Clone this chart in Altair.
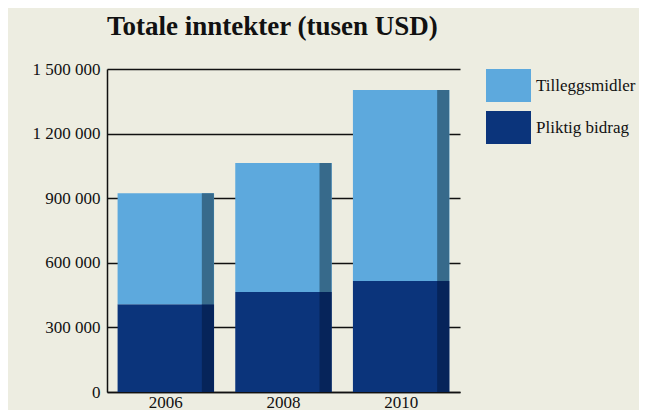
import altair as alt
import pandas as pd

years = ["2006", "2008", "2010"]
pliktig = [408000, 464000, 515000]
tillegg = [515000, 599000, 887000]
series = ["Tilleggsmidler", "Pliktig bidrag"]
main_colors = ["#5DA9DD", "#0B347B"]
strip_colors = ["#376A8B", "#06245A"]
y_ticks = [0, 300000, 600000, 900000, 1200000, 1500000]

rows = []
for i, yr in enumerate(years):
    rows.append({"year": yr, "serie": "Pliktig bidrag", "value": pliktig[i], "ord": 0})
    rows.append({"year": yr, "serie": "Tilleggsmidler", "value": tillegg[i], "ord": 1})
df = pd.DataFrame(rows)

FONT = "Liberation Serif"

x_enc = alt.X("year:N", scale=alt.Scale(paddingInner=0.18, paddingOuter=0.09),
              axis=alt.Axis(title=None, labelAngle=0, ticks=False, labelPadding=2,
                            domainColor="#111111", domainWidth=1.5))
y_enc = alt.Y("value:Q", stack="zero",
              scale=alt.Scale(domain=[0, 1500000], nice=False),
              axis=alt.Axis(title=None, values=y_ticks, ticks=False, labelPadding=7,
                            grid=True, gridColor="#111111", gridWidth=1.5,
                            domainColor="#111111", domainWidth=1.5,
                            minExtent=99, maxExtent=99,
                            labelExpr="replace(format(datum.value, ','), regexp(',', 'g'), ' ')"))

base = alt.Chart(df)

bars = base.mark_bar().encode(
    x=x_enc,
    y=y_enc,
    order=alt.Order("ord:Q", sort="ascending"),
    color=alt.Color("serie:N", scale=alt.Scale(domain=series, range=main_colors),
                    legend=alt.Legend(title=None, orient="none", legendX=379, legendY=-6,
                                      padding=0, symbolType="M-1,-0.733L1,-0.733L1,0.733L-1,0.733Z",
                                      symbolSize=2025, symbolStrokeWidth=0, symbolOpacity=1,
                                      labelFont=FONT, labelFontSize=17, labelColor="#111111",
                                      labelOffset=5, rowPadding=3, labelLimit=200)),
)

strips = base.mark_bar(width=12, xOffset=42).encode(
    x=alt.X("year:N"),
    y=alt.Y("value:Q", stack="zero"),
    order=alt.Order("ord:Q", sort="ascending"),
    color=alt.Color("serie:N", scale=alt.Scale(domain=series, range=strip_colors), legend=None),
)

chart = alt.layer(bars, strips).resolve_scale(color="independent").properties(
    width=353, height=323,
    padding={"top": 5, "left": 0, "right": 3, "bottom": 12},
    background="#EDEDE1",
    title=alt.TitleParams("Totale inntekter (tusen USD)", anchor="start", frame="group", font=FONT,
                          fontSize=27, fontWeight="bold", color="#111111", offset=19),
).configure_view(stroke=None).configure_axis(
    labelFont=FONT, labelFontSize=17, labelColor="#111111"
)

chart.save("out.html", embed_options={"renderer": "svg", "actions": False})
